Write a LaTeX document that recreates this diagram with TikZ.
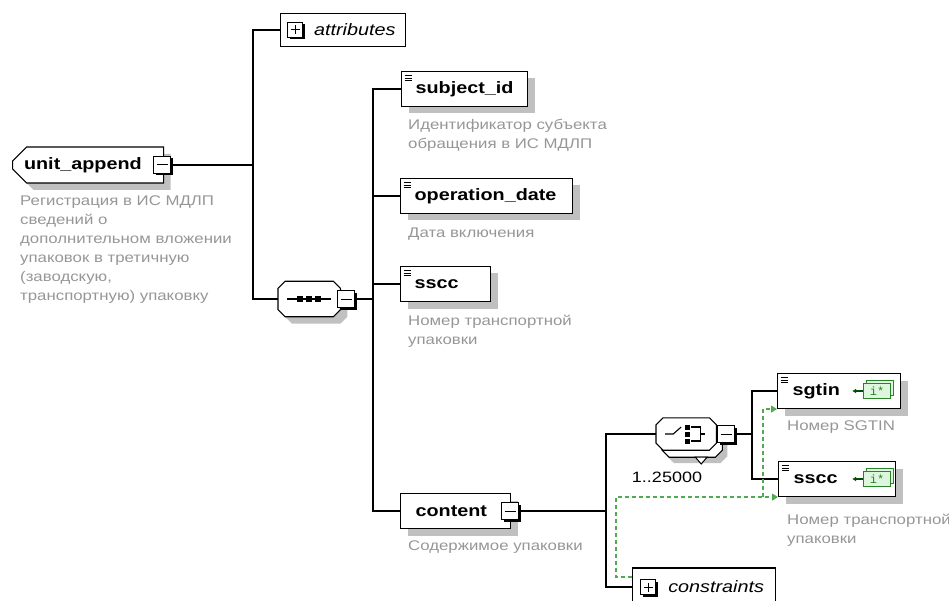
\documentclass[tikz,border=0pt]{standalone}
\usepackage{fontspec}
\setmainfont{Liberation Sans}[FakeStretch=1.2]
\newfontfamily\iconfont{Liberation Mono}
\definecolor{descgray}{RGB}{150,150,150}
\definecolor{shadowgray}{RGB}{192,192,192}
\definecolor{keygreen}{RGB}{80,170,80}
\definecolor{iconfill}{RGB}{222,245,222}
\definecolor{icongreen}{RGB}{40,130,40}
\usetikzlibrary{arrows.meta,positioning,shapes.misc,shadows}
\newcommand\compoframe[1]{([xshift=7pt]#1.north west) -- ([xshift=-7pt]#1.north east)
  -- ([yshift=-7pt]#1.north east) -- ([yshift=7pt]#1.south east) -- ([xshift=-7pt]#1.south east)
  -- ([xshift=7pt]#1.south west) -- ([yshift=7pt]#1.south west) -- ([yshift=-7pt]#1.north west) -- cycle}
\tikzset{
  elem/.style={draw,fill=white,line width=1.1pt,anchor=west,minimum height=35pt,
    inner sep=0pt,align=left,font=\fontsize{16.5}{18}\selectfont\bfseries,
    drop shadow={shadow xshift=7pt,shadow yshift=-7pt,fill=shadowgray,opacity=1}},
  root/.style={elem,chamfered rectangle,chamfered rectangle corners={north west,south west},
    chamfered rectangle sep=7pt},
  simple/.style={path picture={
    \foreach \k in {4,6.5,9}
      \draw[line width=0.8pt] ([xshift=3pt,yshift=-\k pt]path picture bounding box.north west) -- ++(7pt,0);}},
  group/.style={draw,fill=white,line width=1.1pt,anchor=west,minimum height=33pt,
    inner sep=0pt,align=right,font=\fontsize{16.5}{18}\selectfont\itshape},
  compobox/.style={anchor=west,inner sep=0pt},
  compoline/.style={draw=black,fill=white,line width=1.1pt},
  minusbox/.style={draw,fill=white,line width=1pt,minimum size=17pt,inner sep=0pt,anchor=west,
    drop shadow={shadow xshift=2pt,shadow yshift=-2pt,fill=black,opacity=1},
    path picture={\draw[line width=1pt] ([xshift=3pt]path picture bounding box.west) -- ([xshift=-3pt]path picture bounding box.east);}},
  plusbox/.style={draw,fill=white,line width=1pt,minimum size=15pt,inner sep=0pt,anchor=west,
    drop shadow={shadow xshift=2pt,shadow yshift=-2pt,fill=black,opacity=1},
    path picture={\draw[line width=1pt] ([xshift=3pt]path picture bounding box.west) -- ([xshift=-3pt]path picture bounding box.east)
      ([yshift=-3pt]path picture bounding box.north) -- ([yshift=3pt]path picture bounding box.south);}},
  desc/.style={anchor=north west,align=left,inner sep=0pt,text=descgray,font=\fontsize{14}{19}\selectfont},
  link/.style={line width=1.1pt},
  keyref/.style={draw=keygreen,line width=1.3pt,dash pattern=on 4pt off 3pt,
    -{Triangle[length=6pt,width=7pt,fill=keygreen]}},
  keyicon/.style={draw=icongreen,fill=iconfill,line width=0.9pt,minimum width=27pt,minimum height=15pt,
    inner sep=0pt,anchor=east,text=icongreen,font=\iconfont\fontsize{12}{12}\selectfont,
    copy shadow={shadow xshift=3pt,shadow yshift=3pt,draw=icongreen,fill=iconfill}},
  keyarrow/.style={draw=black!70!green,line width=1.3pt,-{Latex[length=4pt,width=5pt]}}
}
\begin{document}
\begin{tikzpicture}[x=1pt,y=-1pt]
      \useasboundingbox (0,0) rectangle (949,601);
      \clip (0,0) rectangle (949,601);

      \node[root,minimum width=151pt,minimum height=36pt,text width=128pt] (unitappend) at (12,165) {unit\_append};
      \node[minusbox,right=-11pt of unitappend] (unitappendminus) {};
      \node[desc] (unitappenddesc) at (20,196)
        {Регистрация в ИС МДЛП\\сведений о\\дополнительном вложении\\упаковок в третичную\\(заводскую,\\транспортную) упаковку};

      \node[group,minimum width=125pt,text width=105pt] (attributes) at (280,30) {attributes};
      \node[plusbox,right=7pt of attributes.west] (attributesplus) {};

      \node[compobox,minimum width=62pt,minimum height=35pt] (sequence) at (278,299) {};
      \fill[shadowgray,transform canvas={shift={(7pt,-7pt)}}] \compoframe{sequence};
      \draw[compoline] \compoframe{sequence};
      \node[minusbox,right=-3pt of sequence] (sequenceminus) {};
      \begin{scope}[shift={(sequence.center)}]
        \draw[line width=1.1pt] (-22,0) -- (22,0);
        \foreach \d in {-9,0,9}
          \fill (\d-3,-3) rectangle (\d+3,3);
      \end{scope}

      \node[elem,simple,minimum width=126pt,text width=98pt] (subjectid) at (401,89) {subject\_id};
      \node[desc] (subjectiddesc) at (408,119) {Идентификатор субъекта\\обращения в ИС МДЛП};
      \node[elem,simple,minimum width=172pt,text width=144pt] (operationdate) at (400,196) {operation\_date};
      \node[desc] (operationdatedesc) at (408,228) {Дата включения};
      \node[elem,simple,minimum width=90pt,text width=62pt] (ssccone) at (400,284) {sscc};
      \node[desc] (sscconedesc) at (408,315) {Номер транспортной\\упаковки};
      \node[elem,minimum width=110pt,text width=80pt] (content) at (400,511) {content};
      \node[minusbox,right=-10pt of content] (contentminus) {};
      \node[desc] (contentdesc) at (408,541) {Содержимое упаковки};

      \node[compobox,minimum width=60pt,minimum height=32pt] (choice) at (656,434) {};
      \fill[shadowgray,transform canvas={shift={(11pt,-13pt)}}] \compoframe{choice};
      \draw[compoline,transform canvas={shift={(6pt,-7pt)}}] \compoframe{choice};
      \draw[compoline] \compoframe{choice};
      \node[minusbox,right=1pt of choice] (choiceminus) {};
      \begin{scope}[shift={(choice.center)}]
        \draw[line width=1.1pt] (-21,0) -- (-13,0) -- (-5,-7);
        \foreach \d in {-7,0,7}
          \fill (-1,\d-2.5) rectangle (4,\d+2.5);
        \draw[line width=1.1pt] (5,-7) -- (14,-7) -- (14,7) -- (5,7) (14,0) -- (19,0);
        \draw[line width=1pt,fill=white] (9,23) -- (21,23) -- (15,30) -- cycle;
      \end{scope}
      \node[font=\fontsize{15}{15}\selectfont] (occurs) at (667,477) {1..25000};

      \node[elem,simple,minimum width=123pt,text width=93pt] (sgtin) at (777,391) {sgtin};
      \node[keyicon] (sgtinkey) at ([xshift=-10pt]sgtin.east) {i*};
      \node[desc] (sgtindesc) at (787,421) {Номер SGTIN};
      \node[elem,simple,minimum width=117pt,text width=87pt] (sscctwo) at (778,479) {sscc};
      \node[keyicon] (sscctwokey) at ([xshift=-5pt]sscctwo.east) {i*};
      \node[desc] (sscctwodesc) at (787,514) {Номер транспортной\\упаковки};

      \node[group,minimum width=143pt,minimum height=38pt,text width=120pt] (constraints) at (632,587) {constraints};
      \node[plusbox,right=8pt of constraints.west] (constraintsplus) {};

      \coordinate (rootjoint) at (253,165);
      \coordinate (seqjoint) at (373,299);
      \coordinate (contentjoint) at (606,511);
      \coordinate (choicejoint) at (752,434);
      \coordinate (keyjoint) at ([xshift=-15pt]sscctwo.south west);

      \draw[link] (unitappendminus) -- (rootjoint);
      \draw[link] (attributes) -| (rootjoint) |- (sequence);
      \draw[link] (sequenceminus) -- (seqjoint);
      \draw[link] (subjectid) -| (seqjoint) |- (content);
      \draw[link] (operationdate) -| (seqjoint);
      \draw[link] (ssccone) -| (seqjoint);
      \draw[link] (contentminus) -- (contentjoint);
      \draw[link] (choice) -| (contentjoint) |- (constraints);
      \draw[link] (choiceminus) -- (choicejoint);
      \draw[link] (sgtin) -| (choicejoint) |- (sscctwo);

      \draw[keyref] ([yshift=10pt]constraints.west) -- ++(-16,0) |- (sscctwo.south west);
      \draw[keyref] (keyjoint) |- (sgtin.south west);
      \draw[keyarrow] (sgtinkey.west) -- ++(-11,0);
      \draw[keyarrow] (sscctwokey.west) -- ++(-11,0);
\end{tikzpicture}
\end{document}
